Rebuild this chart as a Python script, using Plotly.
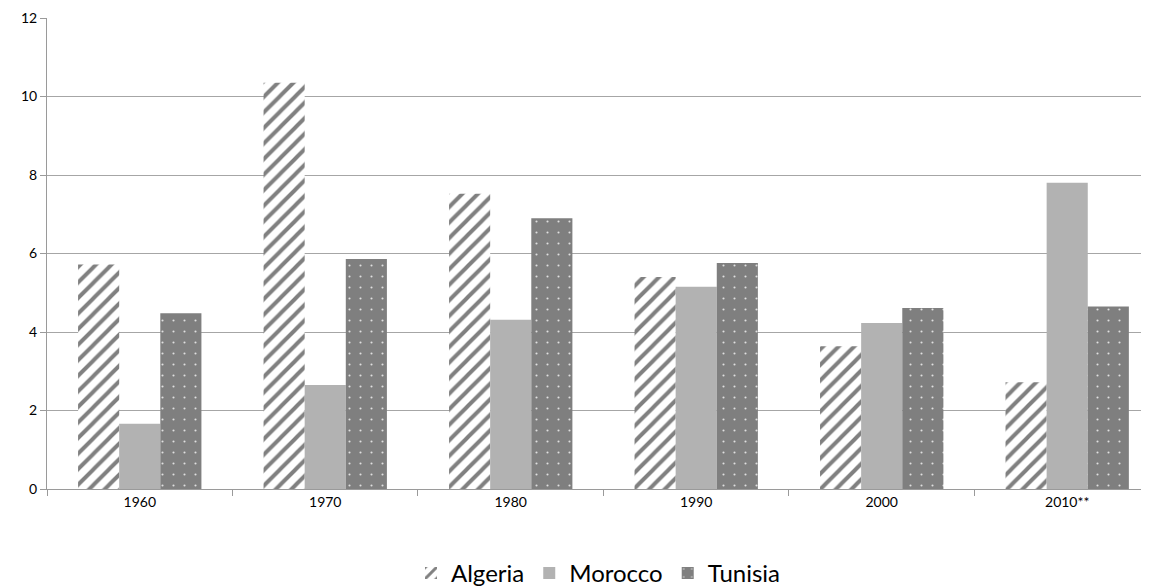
import plotly.graph_objects as go

categories = ["1960", "1970", "1980", "1990", "2000", "2010**"]
algeria = [5.72, 10.35, 7.52, 5.40, 3.64, 2.72]
morocco = [1.66, 2.65, 4.31, 5.15, 4.23, 7.80]
tunisia = [4.48, 5.86, 6.90, 5.76, 4.61, 4.65]
y_ticks = [0, 2, 4, 6, 8, 10, 12]

FONT = "Lato, 'Open Sans', sans-serif"

fig = go.Figure()
fig.add_trace(go.Bar(
    name="Algeria", x=categories, y=algeria,
    marker=dict(color="white", line=dict(width=0),
                pattern=dict(shape="/", fgcolor="#808080", bgcolor="white",
                             size=11, solidity=0.36, fillmode="replace")),
))
fig.add_trace(go.Bar(
    name="Morocco", x=categories, y=morocco,
    marker=dict(color="#b2b2b2", line=dict(width=0)),
))
fig.add_trace(go.Bar(
    name="Tunisia", x=categories, y=tunisia,
    marker=dict(color="#7f7f7f", line=dict(width=0),
                pattern=dict(shape=".", fgcolor="#e0e0e0", bgcolor="#7f7f7f",
                             size=11, solidity=0.03, fillmode="replace")),
))

# the page body adds an 8px offset; the figure is sized to fill the rest of the window
fig.update_layout(
    width=1141, height=580,
    margin=dict(l=39, r=0, t=10, b=99, autoexpand=False),
    paper_bgcolor="white", plot_bgcolor="white",
    barmode="group", bargap=0.335, bargroupgap=0,
    font=dict(family=FONT, size=14, color="black"),
    showlegend=True,
    legend=dict(orientation="h", x=0.5, xanchor="center", y=-0.179, yanchor="middle",
                font=dict(size=24, family=FONT, color="black"),
                itemwidth=30, tracegroupgap=0),
    xaxis=dict(type="category", categoryorder="array", categoryarray=categories,
               range=[-0.5, 5.441], showgrid=False, automargin=False,
               showline=True, linecolor="#9a9a9a", linewidth=1,
               ticks="outside", tickson="boundaries", ticklen=6, tickcolor="#9a9a9a",
               tickfont=dict(size=14, color="black")),
    yaxis=dict(range=[0, 12], tickvals=y_ticks, showgrid=True, gridcolor="#a6a6a6", gridwidth=1,
               showline=True, linecolor="#9a9a9a", linewidth=1, automargin=False,
               ticks="outside", ticklen=6, tickcolor="#9a9a9a",
               zeroline=False, tickfont=dict(size=14, color="black")),
)

fig.write_html("out.html")
